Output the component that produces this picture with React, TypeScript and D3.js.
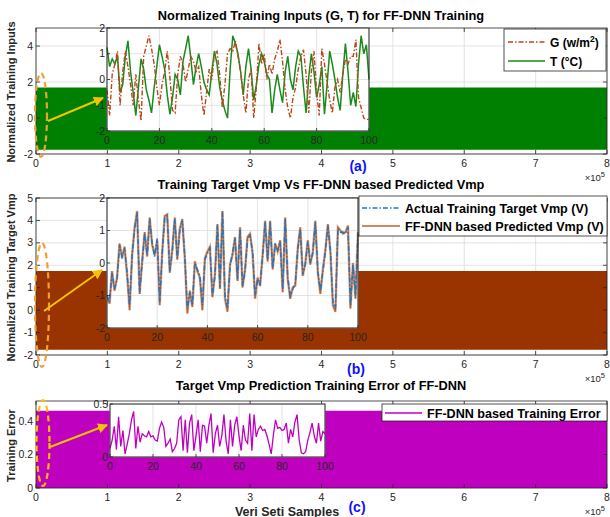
import React from "react";
import * as d3 from "d3";

// ---------- DATA ----------
const mainXTicks = [0, 1, 2, 3, 4, 5, 6, 7, 8]; // x10^5
const bandSamples = [0, 8e5];
const inputBand = [-1.76, 1.7];
const vmpBand = [-1.77, 1.74];
const errorBand = [0, 0.462];

const insetXTicks = [0, 20, 40, 60, 80, 100];

const tempT = [1.25, 0.5, 0.8, 0.6, 0.9, -0.5, -0.2, 0.9, 1.5, 0.3, -0.5, -1.4, -0.3, 0.8, 0.4, -0.4, -0.8, -1.3, -0.3, 0.5,
  1.35, 0.9, 0.4, -0.6, -1.35, -0.7, 0.2, 0.0, -0.6, 0.7, 1.2, 1.7, 0.8, -0.2, 0.5, 1.0, 0.5, -0.1, -0.4, -0.6,
  0.3, 1.1, 0.6, -0.3, -0.8, -1.2, -1.5, 0.4, 1.7, 1.4, 1.0, 0.3, -0.6, 0.5, 1.2, 0.4, -0.8, -0.2, 0.6, 1.0,
  0.7, 0.2, 0.0, -1.3, -0.4, 0.2, -0.4, -0.9, 0.3, 0.9, 0.0, -0.4, 0.5, 1.1, 0.9, -0.3, -1.3, 0.1, 1.0, 0.3,
  -0.7, -0.2, 0.5, -1.35, -0.2, 1.1, 0.6, 0.0, -0.7, -1.2, 0.2, 1.4, 0.3, -1.0, -0.5, -1.05, 0.6, 1.7, 1.0, 1.35, 0.0];

const irradG = [-0.4, -1.4, 0.2, 0.6, 1.1, -1.0, 0.3, 1.1, 0.5, -0.2, -1.0, 0.2, -0.8, -1.6, 0.9, 1.3, 1.7, 1.2, 0.6, -0.3,
  -1.0, -0.2, 0.3, 1.1, 0.1, -1.2, -1.3, 0.2, 0.9, 0.6, -0.1, 0.4, 0.9, 0.7, 0.3, 0.5, -0.6, -1.4, -0.5, 0.4,
  0.0, 1.0, 1.1, 0.2, -1.1, -0.2, 1.0, 1.2, 1.1, 1.5, 0.9, 0.3, -0.6, -1.3, 0.0, 0.4, -1.5, -0.3, 1.4, 0.6,
  1.0, 0.0, 0.6, 0.2, 0.8, 1.1, 1.55, 0.7, -0.4, -1.1, -1.5, -0.7, -0.3, 0.4, 0.9, 1.15, 0.2, -1.3, 0.3, 1.1,
  -0.5, -1.4, 1.2, 0.6, -0.1, -0.8, -1.3, -0.3, 0.0, -0.5, 0.2, 0.8, 0.6, 0.9, 0.9, 1.55, -0.7, -1.1, -1.5, -1.55, -1.55];

const vmpActual = [-1.0, -1.2, -0.3, -0.8, -0.5, 0.55, 0.2, 0.45, -0.3, -1.3, 0.2, 1.05, 1.55, -0.9, 0.0, 0.9, 0.25, 1.35, 0.6, 0.2,
  0.75, -1.2, 0.3, 1.4, 1.45, -0.25, 0.35, 1.35, 0.15, 1.0, 1.3, 0.2, -1.4, -0.9, -1.3, 0.0, -0.2, -0.4, -1.3, 0.1,
  0.3, 0.45, -1.0, -0.4, 1.15, -0.75, 1.55, -1.0, -1.4, -0.1, 0.3, 0.75, -0.5, 1.05, -0.7, -0.25, 0.75, 0.85, 0.35, -1.0,
  -0.5, -0.65, 0.2, 1.25, 0.1, 1.25, -0.15, 0.55, 0.4, 0.65, -0.8, 1.35, -0.45, -1.0, -0.8, -0.65, 0.4, 1.05, -0.35, -0.05,
  0.65, 0.0, 0.3, 1.25, -0.25, -0.85, -0.25, 0.35, 1.15, 0.4, -1.2, -1.4, 1.05, 0.95, 0.95, 0.9, 1.1, -1.3, -0.05, -1.0, 0.9];

const vmpPredicted = [-1.05, -1.25, -0.25, -0.85, -0.45, 0.6, 0.15, 0.5, -0.35, -1.45, 0.25, 1.1, 1.6, -0.95, 0.05, 0.95, 0.2, 1.4, 0.55, 0.25,
  0.7, -1.3, 0.35, 1.45, 1.5, -0.3, 0.4, 1.4, 0.1, 1.05, 1.35, 0.15, -1.55, -0.85, -1.35, 0.05, -0.25, -0.45, -1.45, 0.15,
  0.35, 0.5, -1.05, -0.35, 1.2, -0.8, 1.6, -1.1, -1.5, -0.05, 0.25, 0.8, -0.55, 1.1, -0.75, -0.2, 0.8, 0.9, 0.3, -1.1,
  -0.45, -0.7, 0.25, 1.3, 0.05, 1.3, -0.2, 0.6, 0.35, 0.7, -0.9, 1.4, -0.5, -1.1, -0.75, -0.7, 0.45, 1.1, -0.4, 0.0,
  0.7, -0.05, 0.35, 1.3, -0.3, -0.95, -0.2, 0.4, 1.2, 0.35, -1.3, -1.5, 1.1, 1.0, 0.9, 0.95, 1.15, -1.4, 0.0, -1.1, 0.95];

const trainError = [0.08, 0.16, 0.29, 0.07, 0.38, 0.1, 0.25, 0.03, 0.12, 0.22, 0.35, 0.43, 0.08, 0.29, 0.14, 0.22, 0.2, 0.19, 0.24, 0.19,
  0.2, 0.16, 0.15, 0.27, 0.33, 0.28, 0.1, 0.13, 0.17, 0.05, 0.08, 0.13, 0.35, 0.38, 0.06, 0.35, 0.04, 0.32, 0.4, 0.06,
  0.2, 0.35, 0.05, 0.3, 0.29, 0.13, 0.3, 0.41, 0.04, 0.22, 0.3, 0.1, 0.2, 0.4, 0.15, 0.03, 0.35, 0.1, 0.3, 0.38,
  0.2, 0.06, 0.3, 0.16, 0.13, 0.41, 0.06, 0.4, 0.19, 0.26, 0.29, 0.25, 0.26, 0.2, 0.12, 0.03, 0.21, 0.35, 0.27, 0.28,
  0.25, 0.26, 0.32, 0.13, 0.26, 0.19, 0.33, 0.4, 0.16, 0.04, 0.03, 0.05, 0.16, 0.23, 0.32, 0.2, 0.13, 0.32, 0.15, 0.24, 0.22];

// ---------- STYLE ----------
const FONT = "'Liberation Sans', Arial, Helvetica, sans-serif";
const AX = "#262626";
const GRID = "#dcdcdc";
const GREEN_FILL = "#008000";
const BROWN_FILL = "#993300";
const MAGENTA = "#bf00bf";
const G_COLOR = "#b8471c";
const T_COLOR = "#1a8a1a";
const BLUE = "#1f77c4";
const PRED_COLOR = "#c0602c";
const TITLE_FS = 12.8;
const LEG_FS = 12.6;

const xMain = d3.scaleLinear().domain([0, 8e5]).range([36, 607]);

type PanelSpec = { top: number; bottom: number; domain: number[]; ticks: number[]; fmt: (v: number) => string };

function MainAxes({ p, band, fill, ylabel, title, titleY, tag, tagX, tagY }: any) {
  const y = d3.scaleLinear().domain(p.domain).range([p.bottom, p.top]);
  const area = d3.area<number>().x((d) => xMain(d)).y0(y(band[0])).y1(y(band[1]));
  const x0 = xMain.range()[0], x1 = xMain.range()[1];
  return (
    <g>
      <rect x={x0} y={p.top} width={x1 - x0} height={p.bottom - p.top} fill="#fff" />
      {mainXTicks.map((t) => (
        <line key={"gx" + t} x1={xMain(t * 1e5)} x2={xMain(t * 1e5)} y1={p.top} y2={p.bottom} stroke={GRID} strokeWidth={0.8} />
      ))}
      {p.ticks.map((t: number) => (
        <line key={"gy" + t} x1={x0} x2={x1} y1={y(t)} y2={y(t)} stroke={GRID} strokeWidth={0.8} />
      ))}
      <path d={area(bandSamples) || ""} fill={fill} />
      <rect x={x0} y={p.top} width={x1 - x0} height={p.bottom - p.top} fill="none" stroke={AX} strokeWidth={0.8} />
      {mainXTicks.map((t) => (
        <g key={"tx" + t}>
          <line x1={xMain(t * 1e5)} x2={xMain(t * 1e5)} y1={p.bottom} y2={p.bottom - 4} stroke={AX} strokeWidth={0.8} />
          <line x1={xMain(t * 1e5)} x2={xMain(t * 1e5)} y1={p.top} y2={p.top + 4} stroke={AX} strokeWidth={0.8} />
          <text x={xMain(t * 1e5)} y={p.bottom + 13} textAnchor="middle" fontSize={10.5} fill={AX} fontFamily={FONT}>{t}</text>
        </g>
      ))}
      {p.ticks.map((t: number) => (
        <g key={"ty" + t}>
          <line x1={x0} x2={x0 + 4} y1={y(t)} y2={y(t)} stroke={AX} strokeWidth={0.8} />
          <line x1={x1} x2={x1 - 4} y1={y(t)} y2={y(t)} stroke={AX} strokeWidth={0.8} />
          <text x={x0 - 3} y={y(t) + 3.5} textAnchor="end" fontSize={10.5} fill={AX} fontFamily={FONT}>{p.fmt(t)}</text>
        </g>
      ))}
      <text x={x1 - 2} y={p.bottom + 27} textAnchor="end" fontSize={9.5} fill={AX} fontFamily={FONT}>
        ×10<tspan dy={-4} fontSize={7.5}>5</tspan>
      </text>
      <text transform={`translate(${15},${(p.top + p.bottom) / 2 + 1}) rotate(-90)`} textAnchor="middle" fontSize={11} fontWeight="bold" fill={AX} fontFamily={FONT}>{ylabel}</text>
      <text x={321} y={titleY} textAnchor="middle" fontSize={TITLE_FS} fontWeight="bold" fill="#000" fontFamily={FONT}>{title}</text>
      <text x={tagX} y={tagY} textAnchor="middle" fontSize={14} fontWeight="bold" fill="#1010ff" fontFamily={FONT}>{tag}</text>
    </g>
  );
}

function Inset({ x0, x1, y0, y1, domain, yticks, fmt, children }: any) {
  const xs = d3.scaleLinear().domain([0, 100]).range([x0, x1]);
  const ys = d3.scaleLinear().domain(domain).range([y1, y0]);
  return (
    <g>
      <rect x={x0} y={y0} width={x1 - x0} height={y1 - y0} fill="#fff" />
      {insetXTicks.map((t) => (
        <line key={"ix" + t} x1={xs(t)} x2={xs(t)} y1={y0} y2={y1} stroke={GRID} strokeWidth={0.8} />
      ))}
      {yticks.map((t: number) => (
        <line key={"iy" + t} x1={x0} x2={x1} y1={ys(t)} y2={ys(t)} stroke={GRID} strokeWidth={0.8} />
      ))}
      {children(xs, ys)}
      <rect x={x0} y={y0} width={x1 - x0} height={y1 - y0} fill="none" stroke={AX} strokeWidth={1} />
      {insetXTicks.map((t) => (
        <g key={"ixt" + t}>
          <line x1={xs(t)} x2={xs(t)} y1={y1} y2={y1 - 3} stroke={AX} strokeWidth={0.8} />
          <text x={xs(t)} y={y1 + 13} textAnchor="middle" fontSize={10.5} fill={AX} fontFamily={FONT}>{t}</text>
        </g>
      ))}
      {yticks.map((t: number) => (
        <g key={"iyt" + t}>
          <line x1={x0} x2={x0 + 3} y1={ys(t)} y2={ys(t)} stroke={AX} strokeWidth={0.8} />
          <text x={x0 - 2} y={ys(t) + 3.5} textAnchor="end" fontSize={10.5} fill={AX} fontFamily={FONT}>{fmt(t)}</text>
        </g>
      ))}
    </g>
  );
}

function lineOf(vals: number[], xs: any, ys: any) {
  return d3.line<number>().x((_, i) => xs(i)).y((d) => ys(d))(vals) || "";
}

export default function App() {
  const pA: PanelSpec = { top: 28, bottom: 154, domain: [-2, 5], ticks: [-2, 0, 2, 4], fmt: (v) => String(v) };
  const pB: PanelSpec = { top: 198, bottom: 355, domain: [-2, 5], ticks: [-2, -1, 0, 1, 2, 3, 4, 5], fmt: (v) => String(v) };
  const pC: PanelSpec = { top: 401, bottom: 488, domain: [0, 0.52], ticks: [0, 0.2, 0.4], fmt: (v) => String(v) };

  return (
    <svg width={610} height={517} style={{ position: "absolute", left: 0, top: 0, background: "#fff" }} fontFamily={FONT}>
      <defs>
        <marker id="arr" viewBox="0 0 10 10" refX="9" refY="5" markerWidth="5" markerHeight="5" orient="auto">
          <path d="M0,0 L10,5 L0,10 z" fill="#f5c400" />
        </marker>
      </defs>
      <rect width={610} height={517} fill="#fff" />

      {/* Panel A */}
      <MainAxes p={pA} band={inputBand} fill={GREEN_FILL} ylabel="Normalized Training Inputs"
        title="Normalized Training Inputs (G, T) for FF-DNN Training" titleY={20} tag="(a)" tagX={358} tagY={171} />
      <Inset x0={107} x1={369} y0={28} y1={131} domain={[-2, 2]} yticks={[-2, -1, 0, 1, 2]} fmt={(v: number) => String(v)}>
        {(xs: any, ys: any) => (
          <g>
            <path d={lineOf(tempT, xs, ys)} fill="none" stroke={T_COLOR} strokeWidth={1.5} />
            <path d={lineOf(irradG, xs, ys)} fill="none" stroke={G_COLOR} strokeWidth={1.4} strokeDasharray="5,2,1.5,2" />
          </g>
        )}
      </Inset>
      <g>
        <rect x={504} y={29} width={102} height={42} fill="#fff" stroke={AX} strokeWidth={0.8} />
        <line x1={508} x2={545} y1={42} y2={42} stroke={G_COLOR} strokeWidth={1.4} strokeDasharray="5,2,1.5,2" />
        <line x1={508} x2={545} y1={61} y2={61} stroke={T_COLOR} strokeWidth={1.4} />
        <text x={550} y={46.5} fontSize={12} fontWeight="bold" fill="#000">G (w/m<tspan dy={-4.5} fontSize={8.5}>2</tspan><tspan dy={4.5}>)</tspan></text>
        <text x={550} y={65.5} fontSize={12} fontWeight="bold" fill="#000">T (°C)</text>
      </g>
      <ellipse cx={41} cy={115} rx={6} ry={42} fill="none" stroke="#f0a030" strokeWidth={2.2} strokeDasharray="6,4" />
      <line x1={48} y1={121} x2={103} y2={98} stroke="#f5c400" strokeWidth={2} markerEnd="url(#arr)" />

      {/* Panel B */}
      <MainAxes p={pB} band={vmpBand} fill={BROWN_FILL} ylabel="Normalized Training Target Vmp"
        title="Training Target Vmp Vs FF-DNN based Predicted Vmp" titleY={188.5} tag="(b)" tagX={356} tagY={374} />
      <Inset x0={107} x1={358} y0={198} y1={328} domain={[-2, 2]} yticks={[-2, -1, 0, 1, 2]} fmt={(v: number) => String(v)}>
        {(xs: any, ys: any) => (
          <g>
            <path d={lineOf(vmpPredicted, xs, ys)} fill="none" stroke="#e3b498" strokeWidth={2.6} />
            <path d={lineOf(vmpPredicted, xs, ys)} fill="none" stroke={PRED_COLOR} strokeWidth={1.2} />
            <path d={lineOf(vmpActual, xs, ys)} fill="none" stroke={BLUE} strokeWidth={1.6} strokeDasharray="5,2,1.5,2" />
          </g>
        )}
      </Inset>
      <g>
        <rect x={359} y={196} width={248} height={40} fill="#fff" stroke={AX} strokeWidth={0.8} />
        <line x1={362} x2={400} y1={208} y2={208} stroke={BLUE} strokeWidth={1.6} strokeDasharray="5,2,1.5,2" />
        <line x1={362} x2={400} y1={226} y2={226} stroke={PRED_COLOR} strokeWidth={1.6} />
        <text x={405} y={212.5} fontSize={LEG_FS} fontWeight="bold" fill="#000">Actual Training Target Vmp (V)</text>
        <text x={405} y={230.5} fontSize={LEG_FS} fontWeight="bold" fill="#000">FF-DNN based Predicted Vmp (V)</text>
      </g>
      <ellipse cx={42} cy={305} rx={7} ry={62} fill="none" stroke="#f0a030" strokeWidth={2.2} strokeDasharray="6,4" />
      <line x1={44} y1={311} x2={102} y2={270} stroke="#f5c400" strokeWidth={2} markerEnd="url(#arr)" />

      {/* Panel C */}
      <MainAxes p={pC} band={errorBand} fill={MAGENTA} ylabel="Training Error"
        title="Target Vmp Prediction Training Error of FF-DNN" titleY={389.5} tag="(c)" tagX={357} tagY={512} />
      <Inset x0={110} x1={325} y0={404} y1={457} domain={[0, 0.5]} yticks={[0, 0.5]} fmt={(v: number) => String(v)}>
        {(xs: any, ys: any) => (
          <path d={lineOf(trainError, xs, ys)} fill="none" stroke={MAGENTA} strokeWidth={1.3} />
        )}
      </Inset>
      <g>
        <rect x={382} y={404} width={225} height={17} fill="#fff" stroke={AX} strokeWidth={0.8} />
        <line x1={385} x2={422} y1={413} y2={413} stroke={MAGENTA} strokeWidth={1.4} />
        <text x={427} y={417.5} fontSize={LEG_FS} fontWeight="bold" fill="#000">FF-DNN based Training Error</text>
      </g>
      <ellipse cx={43} cy={443} rx={6.5} ry={43} fill="none" stroke="#ffc000" strokeWidth={2.2} strokeDasharray="6,4" />
      <line x1={50} y1={447} x2={107} y2={425} stroke="#f5c400" strokeWidth={2} markerEnd="url(#arr)" />
      <text x={287} y={515.5} textAnchor="middle" fontSize={12.5} fontWeight="bold" fill={AX}>Veri Seti Samples</text>
    </svg>
  );
}
